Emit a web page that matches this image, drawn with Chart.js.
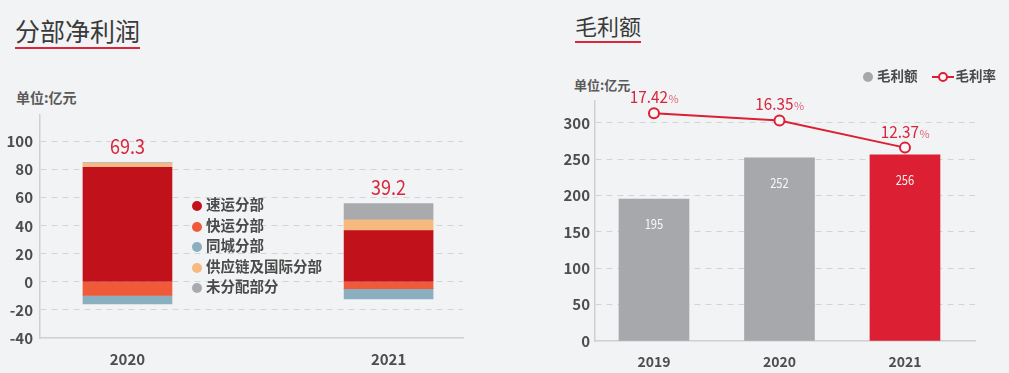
<!DOCTYPE html>
<html>
<head>
<meta charset="utf-8">
<script src="https://cdn.jsdelivr.net/npm/chart.js@4/dist/chart.umd.min.js"></script>
<style>
  html, body { margin: 0; padding: 0; background: #f2f3f5; }
  body { width: 1009px; height: 373px; position: relative; overflow: hidden;
         font-family: "Noto Sans CJK SC", "Noto Sans", sans-serif; }
  canvas { position: absolute; top: 0; }
  .title { position: absolute; color: #3a3a3a; line-height: 1; white-space: nowrap; }
  .title::after { content: ""; position: absolute; left: 0; right: 0; height: 2px; background: #d7283a; }
  #leftTitle { left: 15px; top: 18px; font-size: 25px; }
  #leftTitle::after { top: 29px; }
  #rightTitle { left: 575px; top: 14px; font-size: 22px; }
  #rightTitle::after { top: 27px; }
  .unit { position: absolute; color: #5a5a5a; line-height: 1; white-space: nowrap; font-weight: bold; }
  #leftUnit { left: 16px; top: 90px; font-size: 14px; }
  #rightUnit { left: 574px; top: 78px; font-size: 13px; }
  .legend { position: absolute; color: #4a4a4a; white-space: nowrap; font-weight: bold; }
  #leftLegend { left: 192px; top: 194px; font-size: 14.5px; line-height: 20.6px; }
  #leftLegend .dot { display: inline-block; width: 10px; height: 10px; border-radius: 50%;
                     margin-right: 4px; vertical-align: -1px; }
  #rightLegend { left: 863px; top: 66px; font-size: 13.5px; line-height: 18px; }
  #rightLegend span.item { margin-right: 14px; }
  #rightLegend .dot { display: inline-block; width: 10px; height: 10px; border-radius: 50%;
                      margin-right: 4px; vertical-align: -1px; }
  #rightLegend .ln { display: inline-block; position: relative; width: 22px; height: 10px;
                     margin-right: 2px; vertical-align: -1px; }
  #rightLegend .ln::before { content: ""; position: absolute; left: 0; right: 0; top: 4px; height: 2px; background: #dc1f32; }
  #rightLegend .ln::after { content: ""; position: absolute; left: 6px; top: 0; width: 6px; height: 6px;
                            border: 2px solid #dc1f32; border-radius: 50%; background: #f7f7f8; }
</style>
</head>
<body>
<div class="title" id="leftTitle">分部净利润</div>
<div class="unit" id="leftUnit">单位:亿元</div>
<div class="title" id="rightTitle">毛利额</div>
<div class="unit" id="rightUnit">单位:亿元</div>
<canvas id="leftChart" width="490" height="373" style="left:0;width:490px;height:373px"></canvas>
<canvas id="rightChart" width="469" height="373" style="left:540px;width:469px;height:373px"></canvas>
<div class="legend" id="leftLegend"></div>
<div class="legend" id="rightLegend"></div>
<script>
// Segment net profit (left)
const leftYears = [2020, 2021];
const leftSeriesNames = ['速运分部', '快运分部', '同城分部', '供应链及国际分部', '未分配部分'];
const expressProfit = [81.6, 36.6];
const freightProfit = [-9.7, -4.8];
const intraCityProfit = [-6.0, -7.3];
const supplyChainProfit = [2.9, 7.6];
const unallocatedProfit = [0.5, 11.6];
const netProfitTotals = ['69.3', '39.2'];
const leftTickValues = [-40, -20, 0, 20, 40, 60, 80, 100];

// Gross profit (right)
const rightYears = [2019, 2020, 2021];
const rightSeriesNames = ['毛利额', '毛利率'];
const grossProfit = [195, 252, 256];
const grossMargin = [17.42, 16.35, 12.37];
const rightTickValues = [0, 50, 100, 150, 200, 250, 300];

const FONT = '"Noto Sans CJK SC", "Noto Sans", sans-serif';
const leftColors = ['#c1121c', '#ef5a3a', '#8aafbe', '#f6b97f', '#a9aaad'];
const barGrey = '#a7a8ab';
const brandRed = '#dc1f32';
const gridColor = '#d3d4d6';
const axisColor = '#cfd0d2';
const tickColor = '#4d4d4d';

const leftSeries = [expressProfit, freightProfit, intraCityProfit, supplyChainProfit, unallocatedProfit];

// legends as html
document.getElementById('leftLegend').innerHTML = leftSeriesNames
  .map((name, i) => `<div><span class="dot" style="background:${leftColors[i]}"></span>${name}</div>`)
  .join('');
document.getElementById('rightLegend').innerHTML =
  `<span class="item"><span class="dot" style="background:${barGrey}"></span>${rightSeriesNames[0]}</span>` +
  `<span><span class="ln"></span>${rightSeriesNames[1]}</span>`;

// draw text squeezed a bit horizontally (the source uses a condensed face)
function narrowText(ctx, text, x, y, sx) {
  ctx.save();
  ctx.translate(x, y);
  ctx.scale(sx, 1);
  ctx.fillText(text, 0, 0);
  ctx.restore();
}

const leftTotalsPlugin = {
  id: 'leftTotals',
  afterDatasetsDraw(chart) {
    const { ctx, scales: { x, y } } = chart;
    ctx.save();
    ctx.fillStyle = '#d7263d';
    ctx.font = `20px ${FONT}`;
    ctx.textAlign = 'center';
    ctx.textBaseline = 'middle';
    leftYears.forEach((yr, i) => {
      const top = leftSeries.reduce((s, arr) => s + Math.max(arr[i], 0), 0);
      narrowText(ctx, netProfitTotals[i], x.getPixelForValue(yr), y.getPixelForValue(top) - 16, 0.9);
    });
    ctx.restore();
  }
};

const rightLabelsPlugin = {
  id: 'rightLabels',
  afterDatasetsDraw(chart) {
    const { ctx } = chart;
    const bars = chart.getDatasetMeta(0).data;
    const points = chart.getDatasetMeta(1).data;
    ctx.save();
    ctx.textBaseline = 'middle';
    ctx.textAlign = 'center';
    ctx.fillStyle = 'rgba(255,255,255,0.92)';
    ctx.font = `14px ${FONT}`;
    bars.forEach((bar, i) => narrowText(ctx, String(grossProfit[i]), bar.x, bar.y + 25, 0.8));

    points.forEach((pt, i) => {
      const num = grossMargin[i].toFixed(2);
      ctx.font = `17px ${FONT}`;
      const wNum = ctx.measureText(num).width * 0.9;
      ctx.font = `11px ${FONT}`;
      const wPct = ctx.measureText('%').width;
      const start = pt.x - (wNum + wPct) / 2;
      const cy = pt.y - 16;
      ctx.textAlign = 'left';
      ctx.textBaseline = 'alphabetic';
      ctx.fillStyle = '#d7263d';
      ctx.font = `17px ${FONT}`;
      narrowText(ctx, num, start, cy + 6, 0.9);
      ctx.fillStyle = '#e0687a';
      ctx.font = `11px ${FONT}`;
      ctx.fillText('%', start + wNum + 0.5, cy + 6);
    });
    ctx.restore();
  }
};

// Left: stacked segment net profit
new Chart(document.getElementById('leftChart'), {
  type: 'bar',
  data: {
    datasets: leftSeries.map((vals, i) => ({
      label: leftSeriesNames[i],
      data: vals.map((v, j) => ({ x: leftYears[j], y: v })),
      backgroundColor: leftColors[i],
      barThickness: 89,
      stack: 'seg'
    }))
  },
  options: {
    responsive: false,
    animation: false,
    devicePixelRatio: 1,
    layout: { padding: { top: 115, right: 27, left: 0, bottom: 0 } },
    plugins: { legend: { display: false }, tooltip: { enabled: false } },
    scales: {
      x: {
        type: 'linear',
        offset: false,
        stacked: true,
        min: 2019.665,
        max: 2021.285,
        afterBuildTicks: s => { s.ticks = leftYears.map(v => ({ value: v })); },
        afterFit: s => { s.height = 35; },
        grid: { display: false, drawTicks: false },
        border: { color: axisColor, width: 1.5 },
        ticks: { color: tickColor, font: { size: 15, family: FONT, weight: 'bold' }, padding: 12, callback: v => String(v) }
      },
      y: {
        stacked: true,
        min: -40,
        max: 119,
        afterBuildTicks: s => { s.ticks = leftTickValues.map(v => ({ value: v })); },
        afterFit: s => { s.width = 40; },
        grid: {
          color: c => (c.tick && c.tick.value === -40 ? 'rgba(0,0,0,0)' : gridColor),
          drawTicks: false,
          lineWidth: 1
        },
        border: { color: axisColor, width: 1.5, dash: [6, 5] },
        ticks: { color: tickColor, font: { size: 15, family: FONT, weight: 'bold' }, padding: 7 }
      }
    }
  },
  plugins: [leftTotalsPlugin]
});

// Right: gross profit bars + margin line
new Chart(document.getElementById('rightChart'), {
  type: 'bar',
  data: {
    datasets: [
      {
        type: 'bar',
        label: rightSeriesNames[0],
        data: grossProfit.map((v, j) => ({ x: rightYears[j], y: v })),
        backgroundColor: [barGrey, barGrey, brandRed],
        barThickness: 70,
        order: 1
      },
      {
        type: 'line',
        label: rightSeriesNames[1],
        data: grossMargin.map((v, j) => ({ x: rightYears[j], y: v })),
        yAxisID: 'y1',
        borderColor: brandRed,
        borderWidth: 2,
        pointRadius: 5,
        pointBorderWidth: 2,
        pointBorderColor: brandRed,
        pointBackgroundColor: '#f7f7f8',
        tension: 0,
        order: 0
      }
    ]
  },
  options: {
    responsive: false,
    animation: false,
    devicePixelRatio: 1,
    layout: { padding: { top: 101, right: 34, left: 0, bottom: 0 } },
    plugins: { legend: { display: false }, tooltip: { enabled: false } },
    scales: {
      x: {
        type: 'linear',
        offset: false,
        min: 2018.53,
        max: 2021.558,
        afterBuildTicks: s => { s.ticks = rightYears.map(v => ({ value: v })); },
        afterFit: s => { s.height = 32; },
        grid: { display: false, drawTicks: false },
        border: { color: axisColor, width: 1.5 },
        ticks: { color: tickColor, font: { size: 14, family: FONT, weight: 'bold' }, padding: 12, callback: v => String(v) }
      },
      y: {
        min: 0,
        max: 330,
        afterBuildTicks: s => { s.ticks = rightTickValues.map(v => ({ value: v })); },
        afterFit: s => { s.width = 55; },
        grid: {
          color: c => (c.tick && c.tick.value === 0 ? 'rgba(0,0,0,0)' : gridColor),
          drawTicks: false,
          lineWidth: 1
        },
        border: { color: axisColor, width: 1.5, dash: [6, 5] },
        ticks: { color: tickColor, font: { size: 15, family: FONT, weight: 'bold' }, padding: 5 }
      },
      y1: {
        display: false,
        min: -15.96,
        max: 19.2
      }
    }
  },
  plugins: [rightLabelsPlugin]
});
</script>
</body>
</html>
